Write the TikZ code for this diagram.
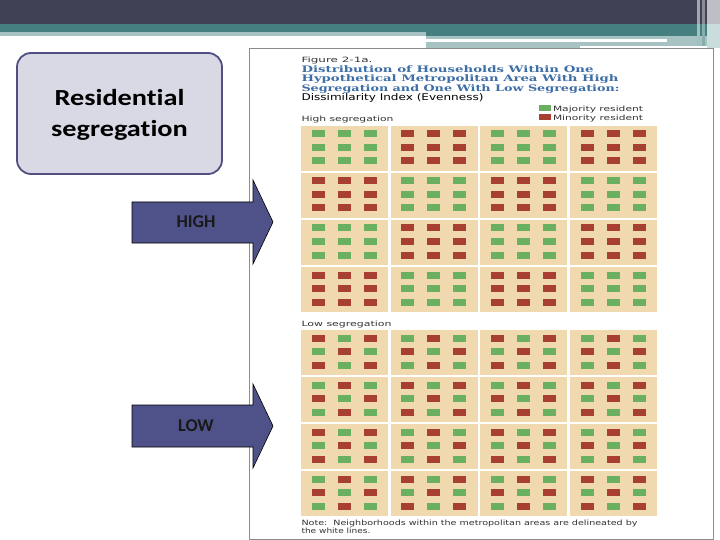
\documentclass[tikz,border=0pt]{standalone}
\usepackage{fontspec}
\setmainfont{Carlito}[Ligatures={NoCommon}]
\newfontfamily\figsans{DejaVu Sans}
\newfontfamily\figslab{DejaVu Serif}
\usepackage{graphicx}
\definecolor{hdrdark}{HTML}{414155}
\definecolor{hdrteal}{HTML}{457F80}
\definecolor{hdrlight}{HTML}{A6C2C3}
\definecolor{hdrpale}{HTML}{C9DDDD}
\definecolor{hdrgray}{HTML}{BEBEC6}
\definecolor{boxfill}{HTML}{D9D9E6}
\definecolor{boxedge}{HTML}{4F5080}
\definecolor{arrowfill}{HTML}{4F5289}
\definecolor{paneledge}{HTML}{8C8C8C}
\definecolor{beige}{HTML}{F0D9AE}
\definecolor{sqgreen}{HTML}{6AB060}
\definecolor{sqred}{HTML}{A84032}
\definecolor{titleblue}{HTML}{3E6EA6}
\definecolor{figtxt}{HTML}{333333}
\tikzset{
  txt/.style={anchor=base west, inner sep=0pt, outer sep=0pt, text=figtxt},
  bigarrow/.style={fill=arrowfill, draw=black, line width=0.6pt},
  arrowlabel/.style={inner sep=0pt, font=\bfseries\fontsize{18}{20}\selectfont, text=black!90},
  block/.style={fill=beige},
}
\begin{document}
\begin{tikzpicture}[x=1pt,y=-1pt]
\useasboundingbox (0,0) rectangle (720,540);
\fill[white] (0,0) rectangle (720,540);
% header
\fill[hdrdark] (0,0) rectangle (707,24);
\fill[hdrgray] (707,0) rectangle (720,24);
\fill[hdrteal] (0,24) rectangle (426,32);
\fill[hdrlight] (0,32) rectangle (426,36);
\fill[hdrteal] (426,24) rectangle (707,36);
\fill[hdrlight] (426,36) rectangle (707,48);
\fill[white] (426,39) rectangle (667,41.7);
\fill[white] (580,46) rectangle (707,48);
\fill[hdrpale] (707,24) rectangle (720,48);
\fill[hdrgray!80!hdrdark] (697,0) rectangle (700,24);
\fill[hdrgray!60!hdrdark] (702,0) rectangle (705,24);
\fill[hdrpale!70!hdrteal] (697,24) rectangle (700,46);
\fill[hdrpale!50!hdrteal] (702,24) rectangle (705,46);
% panel
\draw[paneledge, line width=0.8pt, fill=white] (249,48.5) rectangle (713,539.5);
% figure title texts
\node[txt] (figlabel) at (301.5,63) {\resizebox{71pt}{5.5pt}{\figsans Figure 2-1a.}};
\node[txt, text=titleblue] (title1) at (301.5,72.5) {\resizebox{292pt}{6.8pt}{\figslab\bfseries Distribution of Households Within One}};
\node[txt, text=titleblue] (title2) at (301.5,82) {\resizebox{317pt}{6.8pt}{\figslab\bfseries Hypothetical Metropolitan Area With High}};
\node[txt, text=titleblue] (title3) at (301.5,91.5) {\resizebox{318pt}{6.8pt}{\figslab\bfseries Segregation and One With Low Segregation:}};
\node[txt, text=black] (dissim) at (301.5,101) {\resizebox{182pt}{7pt}{\figsans Dissimilarity Index (Evenness)}};
% legend
\fill[sqgreen] (539,105.5) rectangle (551,111.5);
\fill[sqred] (539,114.5) rectangle (551,120.5);
\node[txt] (major) at (553,111.5) {\resizebox{90pt}{5.5pt}{\figsans Majority resident}};
\node[txt] (minor) at (553,120.5) {\resizebox{90pt}{5.5pt}{\figsans Minority resident}};
\node[txt] (highseg) at (301.5,121.5) {\resizebox{92pt}{5.5pt}{\figsans High segregation}};
\node[txt] (lowseg) at (301.5,326) {\resizebox{90pt}{5.5pt}{\figsans Low segregation}};
\node[txt] (note1) at (301.5,525.5) {\resizebox{336pt}{5.5pt}{\figsans Note:\ \ Neighborhoods within the metropolitan areas are delineated by}};
\node[txt] (note2) at (301.5,533.5) {\resizebox{69pt}{5.5pt}{\figsans the white lines.}};
% grids
\foreach \r in {0,...,3}{
  \foreach \c in {0,...,3}{
    \pgfmathsetmacro\bx{301+89.67*\c}
    \pgfmathsetmacro\byh{126+47*\r}
    \pgfmathsetmacro\byl{330+47*\r}
    \fill[block] (\bx,\byh) rectangle ++(87,45);
    \fill[block] (\bx,\byl) rectangle ++(87,45);
    \pgfmathtruncatemacro\ph{mod(\r+\c,2)}
    \foreach \i in {0,1,2}{
      \foreach \j in {0,1,2}{
        \pgfmathsetmacro\sx{\bx+17+26*\i-6.5}
        \pgfmathsetmacro\syh{\byh+8+13.5*\j-3.5}
        \pgfmathsetmacro\syl{\byl+8+13.5*\j-3.5}
        \pgfmathtruncatemacro\pl{mod(\i+\j+\r+\c,2)}
        \ifnum\ph=1 \def\colh{sqred}\else\def\colh{sqgreen}\fi
        \ifnum\pl=0 \def\coll{sqred}\else\def\coll{sqgreen}\fi
        \fill[\colh] (\sx,\syh) rectangle ++(13,7);
        \fill[\coll] (\sx,\syl) rectangle ++(13,7);
      }
    }
  }
}
% left title box
\node[draw=boxedge, fill=boxfill, line width=1.8pt, rounded corners=14pt,
      minimum width=205pt, minimum height=121pt] (rseg) at (119.5,113.5) {};
\node[align=center, inner sep=0pt, font=\bfseries\fontsize{23}{31}\selectfont] (rsegtext) at (119.5,115)
      {\scalebox{1.23}[1]{Residential}\\\scalebox{1.23}[1]{segregation}};
% arrows
\draw[bigarrow] (132,202) -- (253,202) -- (253,180) -- (273,222) -- (253,264) -- (253,243) -- (132,243) -- cycle;
\node[arrowlabel] (high) at (196,222) {HIGH};
\draw[bigarrow] (132,405) -- (253,405) -- (253,384) -- (273,426) -- (253,468) -- (253,447) -- (132,447) -- cycle;
\node[arrowlabel] (low) at (196,426) {LOW};
\end{tikzpicture}
\end{document}
